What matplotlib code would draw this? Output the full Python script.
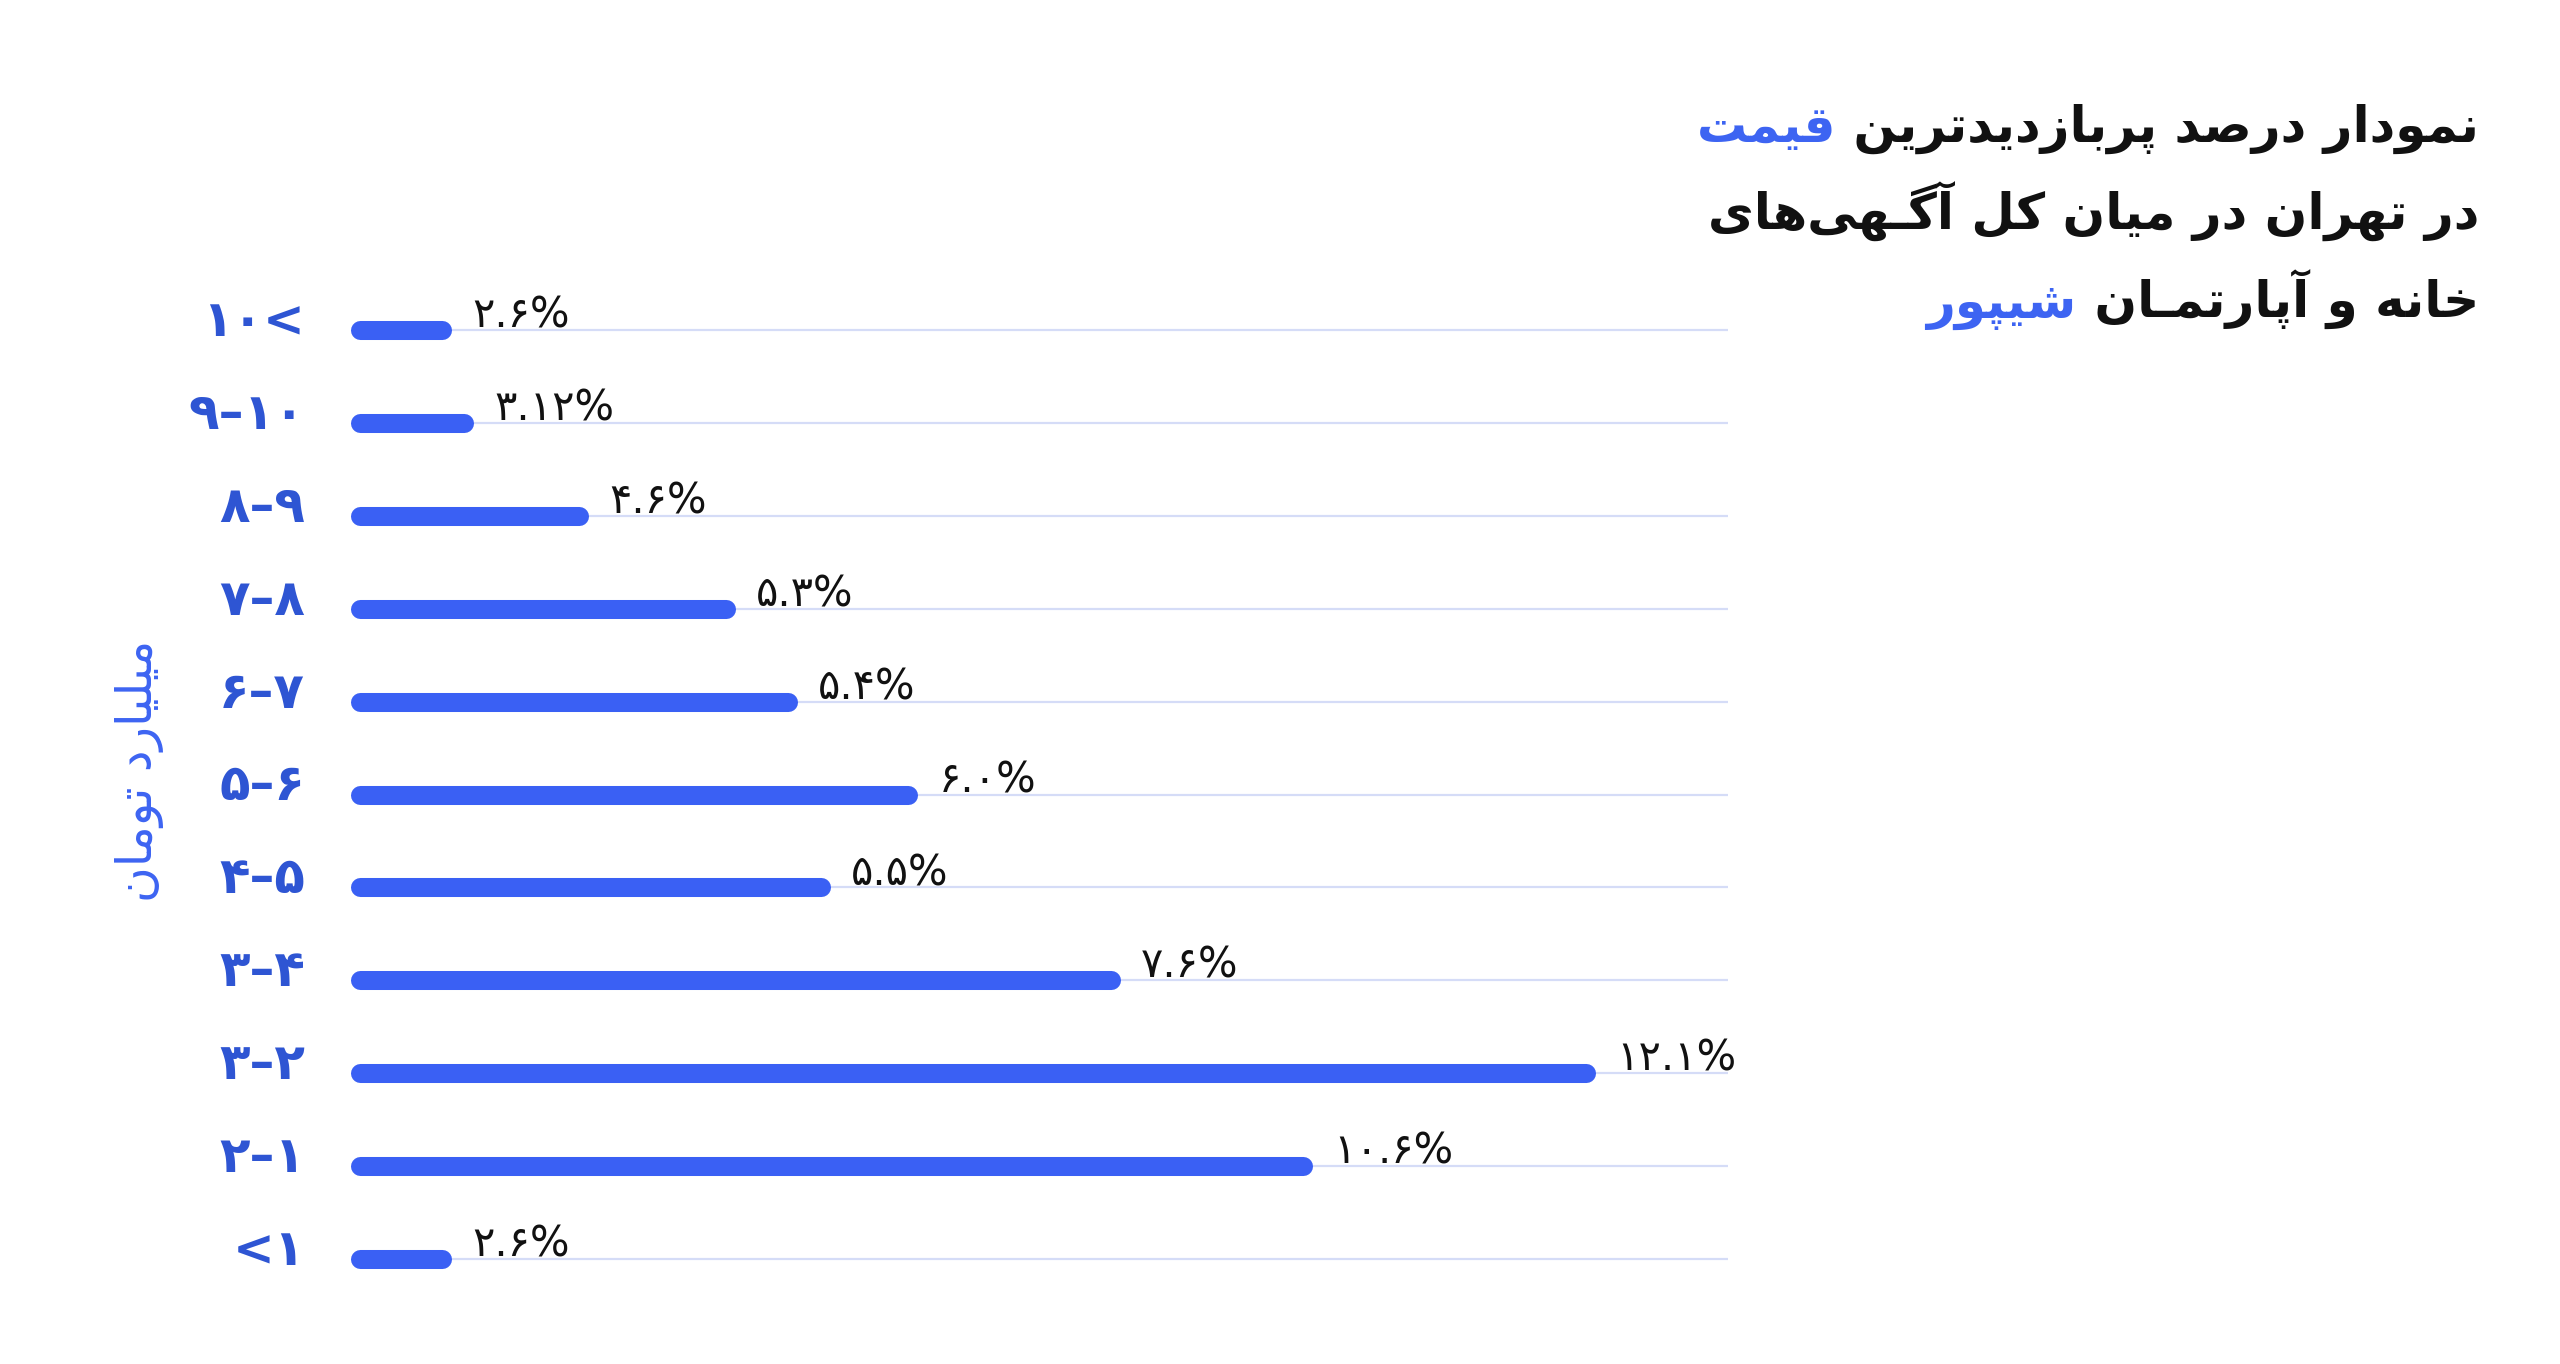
import matplotlib
matplotlib.use("Agg")
import matplotlib.pyplot as plt
from matplotlib.transforms import offset_copy

# --- داده‌ها (از پایین به بالا) ---
range_labels = ["<۱", "۲–۱", "۳–۲", "۳–۴", "۴–۵", "۵–۶", "۶–۷", "۷–۸", "۸–۹", "۹–۱۰", "۱۰<"]
share_labels = ["۲.۶%", "۱۰.۶%", "۱۲.۱%", "۷.۶%", "۵.۵%", "۶.۰%", "۵.۴%", "۵.۳%", "۴.۶%", "۳.۱۲%", "۲.۶%"]
# طول میله‌ها همان‌طور که در تصویر کشیده شده (مقیاس: میله ۱۲.۱٪)
bar_lengths = [0.81, 9.31, 12.1, 7.41, 4.55, 5.41, 4.22, 3.61, 2.16, 1.03, 0.81]

title_lines = [("نمودار درصد پربازدیدترین ", "قیمت"),
               ("در تهران در میان کل آگـهی‌های", ""),
               ("خانه و آپارتمـان ", "شیپور")]
y_title = "میلیارد تومان"

BAR = "#3a60f4"
TICK = "#2e55d3"
ACCENT = "#3d64f2"
GRID = "#d5dcf7"

# شکل‌دهی ساده حروف فارسی (matplotlib خودش راست‌به‌چپ را نمی‌سازد)
FORMS = {
    0x0628: (0xFE8F, 0xFE90, 0xFE91, 0xFE92),  # ب
    0x067E: (0xFB56, 0xFB57, 0xFB58, 0xFB59),  # پ
    0x062A: (0xFE95, 0xFE96, 0xFE97, 0xFE98),  # ت
    0x062E: (0xFEA5, 0xFEA6, 0xFEA7, 0xFEA8),  # خ
    0x0633: (0xFEB1, 0xFEB2, 0xFEB3, 0xFEB4),  # س
    0x0634: (0xFEB5, 0xFEB6, 0xFEB7, 0xFEB8),  # ش
    0x0635: (0xFEB9, 0xFEBA, 0xFEBB, 0xFEBC),  # ص
    0x0642: (0xFED5, 0xFED6, 0xFED7, 0xFED8),  # ق
    0x06A9: (0xFB8E, 0xFB8F, 0xFB90, 0xFB91),  # ک
    0x06AF: (0xFB92, 0xFB93, 0xFB94, 0xFB95),  # گ
    0x0644: (0xFEDD, 0xFEDE, 0xFEDF, 0xFEE0),  # ل
    0x0645: (0xFEE1, 0xFEE2, 0xFEE3, 0xFEE4),  # م
    0x0646: (0xFEE5, 0xFEE6, 0xFEE7, 0xFEE8),  # ن
    0x0647: (0xFEE9, 0xFEEA, 0xFEEB, 0xFEEC),  # ه
    0x06CC: (0xFBFC, 0xFBFD, 0xFBFE, 0xFBFF),  # ی
    0x0627: (0xFE8D, 0xFE8E),  # ا
    0x0622: (0xFE81, 0xFE82),  # آ
    0x062F: (0xFEA9, 0xFEAA),  # د
    0x0630: (0xFEAB, 0xFEAC),  # ذ
    0x0631: (0xFEAD, 0xFEAE),  # ر
    0x0632: (0xFEAF, 0xFEB0),  # ز
    0x0698: (0xFB8A, 0xFB8B),  # ژ
    0x0648: (0xFEED, 0xFEEE),  # و
}
TATWEEL = 0x0640


def farsi(text):
    cps = [ord(c) for c in text]
    out = []
    for i, cp in enumerate(cps):
        if cp not in FORMS:
            out.append(chr(cp))
            continue
        forms = FORMS[cp]
        prev = cps[i - 1] if i > 0 else None
        nxt = cps[i + 1] if i + 1 < len(cps) else None
        p = prev is not None and (prev == TATWEEL or (prev in FORMS and len(FORMS[prev]) == 4))
        n = len(forms) == 4 and nxt is not None and (nxt == TATWEEL or nxt in FORMS)
        idx = 3 if (p and n) else 1 if p else 2 if n else 0
        out.append(chr(forms[idx]))
    return "".join(out).replace("\u200c", "")[::-1]


W, H = 2560, 1364
fig = plt.figure(figsize=(W / 100, H / 100), dpi=100)
fig.patch.set_facecolor("white")

# محور: صفر در x=360px، هر واحد ~101.3px ؛ ردیف‌ها هر 92.9px
ax = fig.add_axes([360 / W, 58.5 / H, 1367.6 / W, 1022 / H])
ax.set_xlim(0, 13.5)
ax.set_ylim(-0.5, 10.5)
ax.axis("off")

ypos = list(range(len(range_labels)))
ax.hlines(ypos, 0, 13.5, color=GRID, lw=1.6, zorder=1)
for y, L in zip(ypos, bar_lengths):
    ax.plot([0, L], [y, y], color=BAR, lw=13.7, solid_capstyle="round",
            zorder=2, clip_on=False)

# برچسب‌های محور عمودی (کمی بالاتر از میله)
tick_tr = offset_copy(ax.transData, fig=fig, x=-55, y=8, units="dots")
for y, lab in zip(ypos, range_labels):
    ax.text(0, y, lab, transform=tick_tr, fontsize=36, color=TICK, fontweight="bold",
            ha="right", va="center", clip_on=False)

for y, L, lab in zip(ypos, bar_lengths, share_labels):
    ax.text(L + 0.3, y + 0.025, lab, fontsize=30, color="#111111",
            ha="left", va="baseline", zorder=3, clip_on=False)

fig.text(139 / W, 1 - 771 / H, farsi(y_title), rotation=90, ha="center", va="center",
         color=ACCENT, fontsize=35)

# عنوان سه‌خطی، راست‌چین، با کلمات آبی
fig.canvas.draw()
renderer = fig.canvas.get_renderer()
right_x = 2479 / W
baselines = [142, 230, 318]
for (black, blue), by in zip(title_lines, baselines):
    y = 1 - by / H
    t = fig.text(right_x, y, farsi(black), ha="right", va="baseline",
                 fontsize=36, fontweight="bold", color="#111111")
    if blue:
        bb = t.get_window_extent(renderer)
        fig.text(bb.x0 / W, y, farsi(blue), ha="right", va="baseline",
                 fontsize=36, fontweight="bold", color=ACCENT)

fig.savefig("out.png", dpi=100, facecolor="white")
